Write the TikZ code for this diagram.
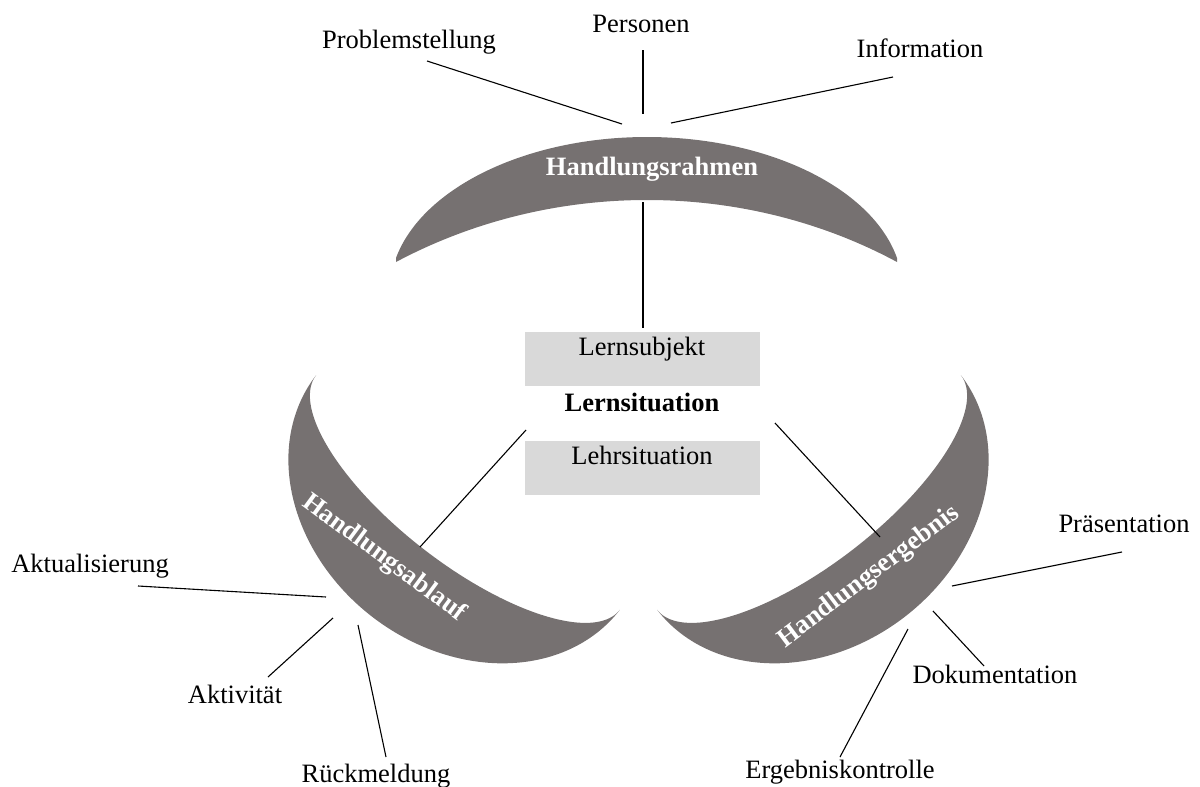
\documentclass[tikz,border=0pt]{standalone}
\usepackage{fontspec}
\setmainfont{Liberation Serif}
\definecolor{crescentgray}{HTML}{767171}
\definecolor{boxgray}{HTML}{D9D9D9}
% lower-left crescent: two half-ellipses over the chord between its tips,
% drawn in a frame whose first axis runs along that chord
\newcommand\lowcrescent{%
  \begin{scope}[shift={(468,492.5)}, x={(0.791pt,-0.611pt)}, y={(-0.611pt,-0.791pt)}]
    \fill[band] plot[domain=180:0, samples=120, variable=\t] ({192*cos(\t)},{157*sin(\t)})
      -- plot[domain=0:180, samples=120, variable=\t] ({192*cos(\t)},{72*sin(\t)}) -- cycle;
  \end{scope}}
\begin{document}
\begin{tikzpicture}[x=1pt,y=-1pt,
  lbl/.style={font=\fontsize{26.5}{30}\selectfont, inner sep=0pt, anchor=base},
  boldlbl/.style={lbl, font=\fontsize{26.5}{30}\selectfont\bfseries},
  bandlbl/.style={boldlbl, text=white},
  band/.style={fill=crescentgray},
  conn/.style={draw=black, line width=1.1pt},
  fieldbox/.style={fill=boxgray, inner sep=0pt, minimum width=235pt, minimum height=54pt}]
\useasboundingbox (0,0) rectangle (1200,787);

% crescents
\fill[band] (396,258) .. controls (422,188) and (526,137) .. (647,137)
  .. controls (768,137) and (872,188) .. (897,258) -- (897,262)
  .. controls (821,221) and (734.5,200) .. (647,200)
  .. controls (559.5,200) and (473,221) .. (396,262) -- cycle;
\lowcrescent
\begin{scope}[shift={(1277,0)}, xscale=-1]
  \lowcrescent
\end{scope}

% crescent titles
\node[bandlbl] (rahmen) at (652,175) {Handlungsrahmen};
\node[bandlbl, anchor=center, rotate=-36.4] (ablauf) at (384,558) {Handlungsablauf};
\node[bandlbl, anchor=center, rotate=37] (ergebnis) at (869,577) {Handlungsergebnis};

% central boxes
\node[fieldbox] (subjbox) at (642.5,359) {};
\node[fieldbox] (lehrbox) at (642.5,468) {};
\node[lbl] (subj) at (642,355) {Lernsubjekt};
\node[boldlbl] (lernsit) at (642,411) {Lernsituation};
\node[lbl] (lehr) at (642,464) {Lehrsituation};

% outer labels
\node[lbl] (problem) at (409,48) {Problemstellung};
\node[lbl] (personen) at (641,32) {Personen};
\node[lbl] (info) at (920,57) {Information};
\node[lbl] (aktual) at (90,572) {Aktualisierung};
\node[lbl] (aktiv) at (235,703) {Aktivität};
\node[lbl] (rueck) at (376,782) {Rückmeldung};
\node[lbl] (praes) at (1124,532) {Präsentation};
\node[lbl] (doku) at (995,683) {Dokumentation};
\node[lbl] (kontrolle) at (840,778) {Ergebniskontrolle};

% connector end points
\coordinate (problemE) at (427,61);   \coordinate (rahmenA) at (622,124);
\coordinate (personenE) at (643,50);  \coordinate (rahmenB) at (643,114);
\coordinate (infoE) at (893,77);      \coordinate (rahmenC) at (671,123);
\coordinate (rahmenIn) at (643,202);  \coordinate (subjTop) at (643,328);
\coordinate (ablaufIn) at (420,547);  \coordinate (lernL) at (526,430);
\coordinate (ergebIn) at (880,537);   \coordinate (lernR) at (775,423);
\coordinate (aktualE) at (138,586);   \coordinate (ablaufA) at (326,597);
\coordinate (aktivE) at (268,677);    \coordinate (ablaufB) at (333,618);
\coordinate (rueckE) at (386,757);    \coordinate (ablaufC) at (358,625);
\coordinate (praesE) at (1122,552);   \coordinate (ergebA) at (952,586);
\coordinate (dokuE) at (984,666);     \coordinate (ergebB) at (933,611);
\coordinate (kontrolleE) at (840,757);\coordinate (ergebC) at (908,629);

% connectors
\draw[conn] (problemE) -- (rahmenA);
\draw[conn] (personenE) -- (rahmenB);
\draw[conn] (infoE) -- (rahmenC);
\draw[conn] (rahmenIn) -- (subjTop);
\draw[conn] (ablaufIn) -- (lernL);
\draw[conn] (ergebIn) -- (lernR);
\draw[conn] (aktualE) -- (ablaufA);
\draw[conn] (aktivE) -- (ablaufB);
\draw[conn] (rueckE) -- (ablaufC);
\draw[conn] (praesE) -- (ergebA);
\draw[conn] (dokuE) -- (ergebB);
\draw[conn] (kontrolleE) -- (ergebC);
\end{tikzpicture}
\end{document}
